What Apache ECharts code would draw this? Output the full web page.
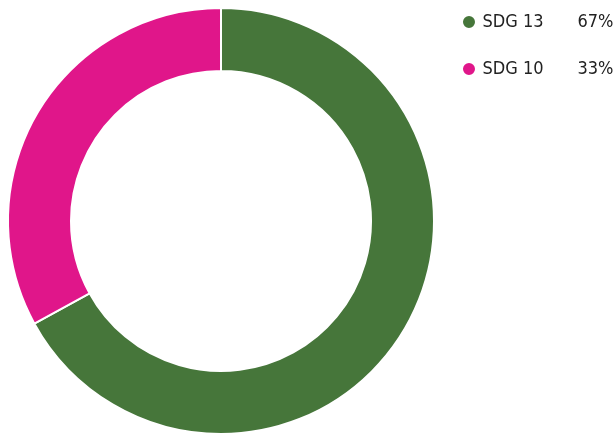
<!DOCTYPE html>
<html><head><meta charset="utf-8">
<script src="https://cdn.jsdelivr.net/npm/echarts@6/dist/echarts.min.js"></script>
<style>html,body{margin:0;padding:0;background:#fff;overflow:hidden}#c{width:616px;height:434px}</style>
</head><body><div id="c"></div>
<script>
const categories = ['SDG 13', 'SDG 10'];
const values = [67, 33];
const colors = ['#46763a', '#e0168a'];
const FONT = '"Liberation Sans Narrow", "DejaVu Sans Condensed", sans-serif';
const total = values.reduce((a, b) => a + b, 0);
const chart = echarts.init(document.getElementById('c'), null, {renderer: 'canvas'});
chart.setOption({
  animation: false,
  color: colors,
  legend: {
    orient: 'vertical',
    left: 461, top: 13,
    padding: 0,
    icon: 'circle',
    itemWidth: 17, itemHeight: 14,
    itemGap: 29,
    data: categories,
    formatter: function (name) {
      const v = values[categories.indexOf(name)];
      return '{n|' + name + '}{v|' + Math.round(v / total * 100) + '%}';
    },
    textStyle: {
      rich: {
        n: {fontFamily: FONT, fontSize: 18, lineHeight: 20, color: '#222', width: 97},
        v: {fontFamily: FONT, fontSize: 18, lineHeight: 20, color: '#222', width: 34, align: 'right'}
      }
    }
  },
  series: [{
    type: 'pie',
    center: [221, 221],
    radius: [150, 213],
    startAngle: 90,
    clockwise: true,
    label: {show: false},
    labelLine: {show: false},
    emphasis: {disabled: true},
    itemStyle: {borderColor: '#fff', borderWidth: 2},
    data: categories.map((c, i) => ({name: c, value: values[i]}))
  }]
});
</script></body></html>
